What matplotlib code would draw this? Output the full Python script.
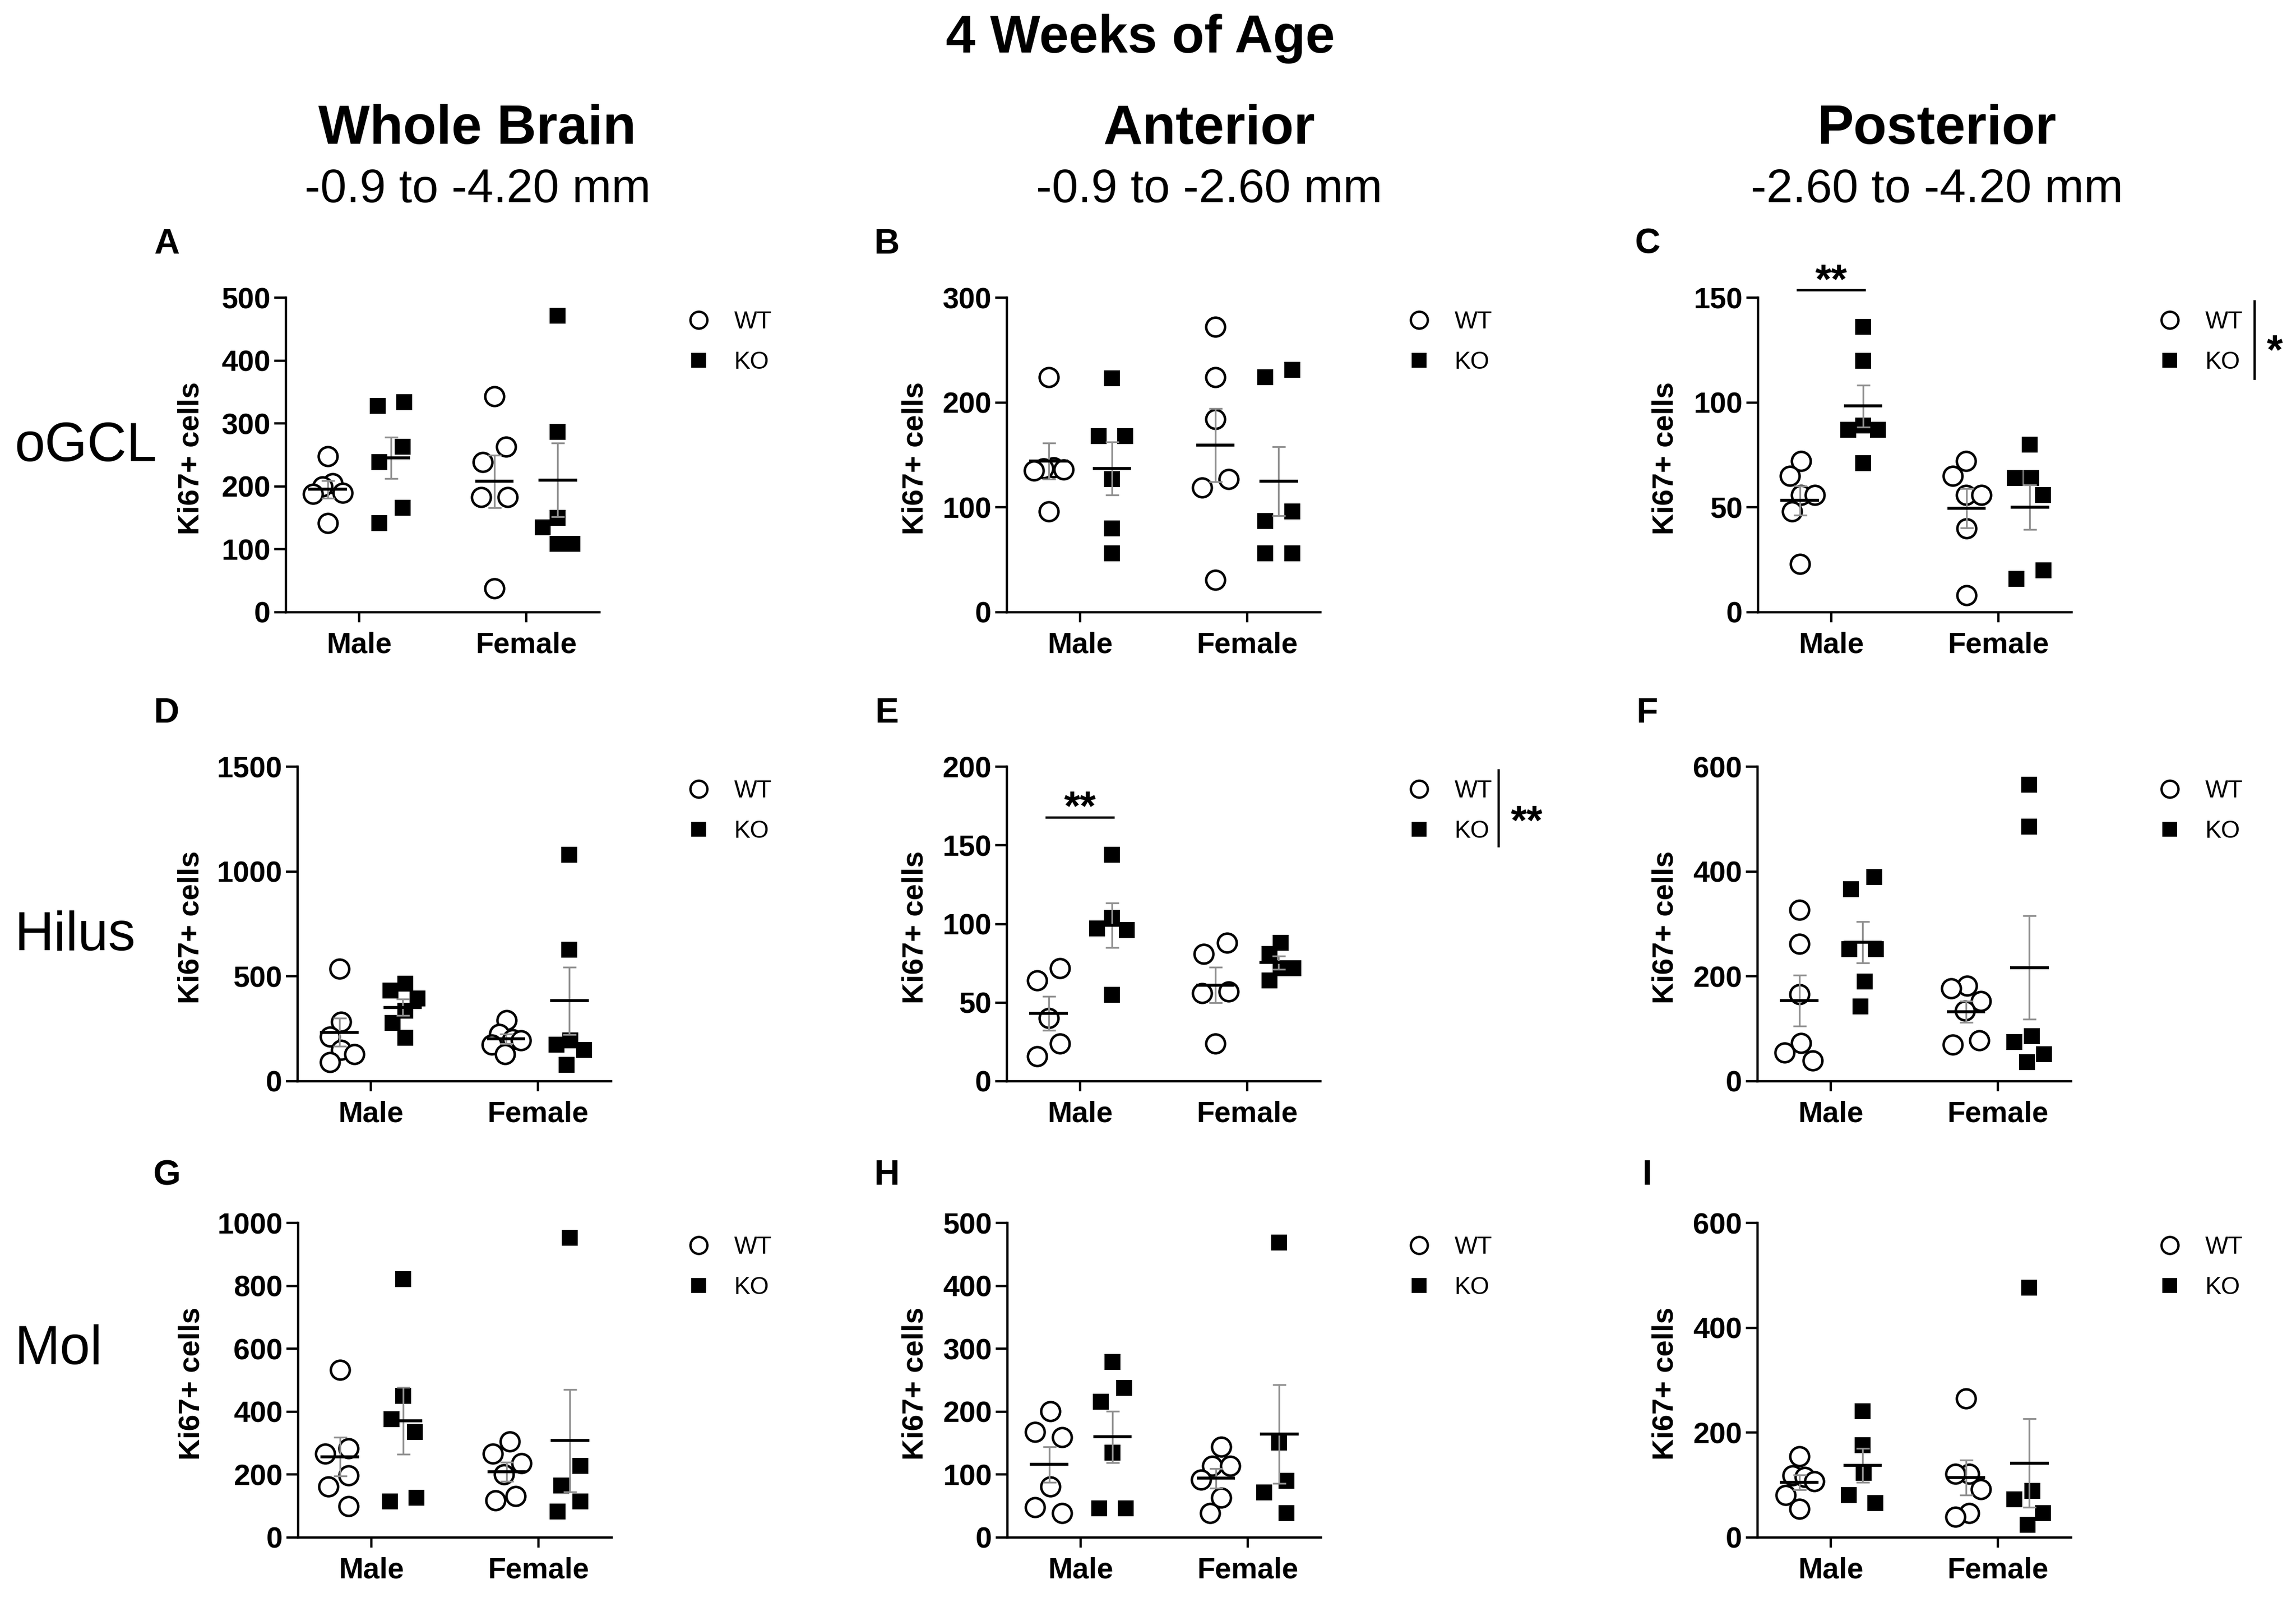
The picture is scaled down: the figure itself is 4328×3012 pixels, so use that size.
import numpy as np
import matplotlib
matplotlib.use("Agg")
import matplotlib.pyplot as plt
from matplotlib.lines import Line2D

plt.rcParams['font.family'] = ['Liberation Sans', 'DejaVu Sans']

# values (Ki67+ cells per animal)
sexes = ['Male', 'Female']
groups = ['WT', 'KO']

a_wt_m = [248, 205, 200, 190, 188, 142]
a_ko_m = [334, 328, 263, 239, 166, 142]
a_wt_f = [343, 263, 239, 183, 183, 38]
a_ko_f = [471, 287, 150, 135, 109, 109]

b_wt_m = [224, 138, 137, 136, 135, 96]
b_ko_m = [223, 168, 168, 127, 80, 56]
b_wt_f = [272, 224, 184, 127, 119, 31]
b_ko_f = [231, 224, 96, 87, 56, 56]

c_wt_m = [72, 65, 56, 56, 48, 23]
c_ko_m = [136, 120, 89, 87, 87, 71]
c_wt_f = [72, 65, 56, 56, 40, 8]
c_ko_f = [80, 64, 64, 56, 20, 16]

d_wt_m = [537, 284, 213, 149, 129, 90]
d_ko_m = [466, 433, 395, 336, 278, 207]
d_wt_f = [291, 226, 200, 194, 175, 129]
d_ko_f = [1080, 627, 194, 175, 149, 78]

e_wt_m = [72, 64, 40, 24, 16]
e_ko_m = [144, 104, 97, 96, 55]
e_wt_f = [88, 81, 57, 56, 24]
e_ko_f = [88, 81, 72, 72, 64]

f_wt_m = [327, 262, 166, 73, 55, 39]
f_ko_m = [390, 366, 252, 252, 190, 143]
f_wt_f = [182, 177, 153, 135, 78, 70]
f_ko_f = [566, 486, 86, 75, 52, 36]

g_wt_m = [533, 284, 266, 197, 162, 100]
g_ko_m = [821, 450, 376, 336, 127, 114]
g_wt_f = [306, 266, 236, 201, 131, 118]
g_ko_f = [952, 227, 166, 114, 83]

h_wt_m = [201, 168, 159, 81, 48, 39]
h_ko_m = [279, 238, 216, 135, 46, 46]
h_wt_f = [144, 114, 114, 92, 63, 39]
h_ko_f = [469, 151, 90, 72, 39]

i_wt_m = [155, 118, 115, 107, 81, 55]
i_ko_m = [241, 176, 123, 81, 66]
i_wt_f = [265, 121, 121, 92, 47, 39]
i_ko_f = [477, 89, 73, 47, 24]

y_max = [500, 300, 150, 1500, 200, 600, 1000, 500, 600]
y_step = [100, 100, 50, 500, 50, 200, 200, 100, 200]
panel_letters = ['A', 'B', 'C', 'D', 'E', 'F', 'G', 'H', 'I']
col_titles = ['Whole Brain', 'Anterior', 'Posterior']
col_ranges = ['-0.9 to -4.20 mm', '-0.9 to -2.60 mm', '-2.60 to -4.20 mm']
row_titles = ['oGCL', 'Hilus', 'Mol']

panel_data = [
    (a_wt_m, a_ko_m, a_wt_f, a_ko_f),
    (b_wt_m, b_ko_m, b_wt_f, b_ko_f),
    (c_wt_m, c_ko_m, c_wt_f, c_ko_f),
    (d_wt_m, d_ko_m, d_wt_f, d_ko_f),
    (e_wt_m, e_ko_m, e_wt_f, e_ko_f),
    (f_wt_m, f_ko_m, f_wt_f, f_ko_f),
    (g_wt_m, g_ko_m, g_wt_f, g_ko_f),
    (h_wt_m, h_ko_m, h_wt_f, h_ko_f),
    (i_wt_m, i_ko_m, i_wt_f, i_ko_f),
]

# ---- layout (pixels in the 4328 x 3012 output) ----
W, H = 4328, 3012
DPI = 200
fig = plt.figure(figsize=(W / DPI, H / DPI), dpi=DPI)

spine_x = [539, 1898, 3314, 561, 1898, 3313, 562, 1899, 3313]
row_top = [561, 1445, 2305]
ax_w, ax_h = 591, 593
ylab_x = [358, 1722, 3136]
legend_x = [1317, 2675, 4090]
XLIM = (-0.44, 1.44)
OFF = 0.19          # WT / KO offset from the sex tick
DIAM = 36           # marker diameter in px
MAX_HALF = 28       # widest sideways spread of a cluster, px


def fx(x):
    return x / W


def fy(y):
    return 1 - y / H


def swarm(vals, px_x, px_y):
    # beeswarm-ish: push close points sideways, then centre and squeeze each cluster
    vals = np.asarray(vals, float)
    yp = vals * px_y
    offs = np.zeros(len(vals))
    dist = 1.3 * DIAM
    step = DIAM * 0.2
    placed = []
    for i in np.argsort(-vals):
        cands = [0.0]
        for k in range(1, 60):
            cands += [-k * step, k * step]
        for c in cands:
            if all((c - offs[j]) ** 2 + (yp[i] - yp[j]) ** 2 >= dist ** 2 for j in placed):
                break
        offs[i] = c
        placed.append(i)
    order = np.argsort(yp)
    clusters, cur = [], [order[0]]
    for a, b in zip(order[:-1], order[1:]):
        if yp[b] - yp[a] < dist:
            cur.append(b)
        else:
            clusters.append(cur)
            cur = [b]
    clusters.append(cur)
    for cl in clusters:
        cl = np.array(cl)
        o = offs[cl] - offs[cl].mean()
        m = np.abs(o).max()
        if m > MAX_HALF:
            o = o * MAX_HALF / m
        offs[cl] = o
    return offs / px_x


axes = []
for p in range(9):
    r, c = divmod(p, 3)
    left = spine_x[p]
    top = row_top[r]
    ax = fig.add_axes([fx(left), fy(top + ax_h), ax_w / W, ax_h / H])
    axes.append(ax)

    ax.set_xlim(*XLIM)
    ax.set_ylim(0, y_max[p])
    px_x = ax_w / (XLIM[1] - XLIM[0])
    px_y = ax_h / y_max[p]

    wt_m, ko_m, wt_f, ko_f = panel_data[p]
    sets = [(0, wt_m, 'WT'), (0, ko_m, 'KO'), (1, wt_f, 'WT'), (1, ko_f, 'KO')]
    for pos, vals, grp in sets:
        cx = pos - OFF if grp == 'WT' else pos + OFF
        xs = cx + swarm(vals, px_x, px_y)
        if grp == 'WT':
            ax.plot(xs, vals, 'o', ms=12.8, mfc='white', mec='black', mew=1.7,
                    ls='none', zorder=3, clip_on=False)
        else:
            ax.plot(xs, vals, 's', ms=11, mfc='black', mec='black', mew=0,
                    ls='none', zorder=3, clip_on=False)
        m = np.mean(vals)
        sem = np.std(vals, ddof=1) / np.sqrt(len(vals))
        ax.errorbar(cx, m, yerr=sem, fmt='none', ecolor='#909090', elinewidth=1.2,
                    capsize=4.5, capthick=1.2, zorder=4)
        ax.hlines(m, cx - 0.115, cx + 0.115, color='black', lw=2.0, zorder=5)

    for side in ['top', 'right']:
        ax.spines[side].set_visible(False)
    for side in ['left', 'bottom']:
        ax.spines[side].set_linewidth(1.6)
    ax.set_yticks(np.arange(0, y_max[p] + 1, y_step[p]))
    ax.set_xticks([0, 1])
    ax.set_xticklabels(sexes)
    ax.tick_params(axis='y', length=8, width=1.6, pad=2.5, labelsize=20)
    ax.tick_params(axis='x', length=7, width=1.6, pad=6, labelsize=20)
    for lab in ax.get_xticklabels() + ax.get_yticklabels():
        lab.set_fontweight('bold')

    ax.set_ylabel('Ki67+ cells', fontsize=20, fontweight='bold')
    ax.yaxis.set_label_coords((ylab_x[c] + 29 - left) / ax_w, 0.49)

    # legend to the right of each panel
    handles = [Line2D([], [], marker='o', ms=11.5, mfc='white', mec='black', mew=1.6, ls='none'),
               Line2D([], [], marker='s', ms=10, mfc='black', mec='black', mew=0, ls='none')]
    fs_px = 16.5 / 72 * DPI
    ax.legend(handles, groups, loc='center left', frameon=False, fontsize=16.5,
              bbox_to_anchor=(fx(legend_x[c] - 0.5 * fs_px), fy(top + 84)),
              bbox_transform=fig.transFigure, borderpad=0, borderaxespad=0,
              handlelength=1.0, handletextpad=0.95, labelspacing=0.68)

    fig.text(fx([314, 1672, 3105][c]), fy([461, 1345, 2216][r]), panel_letters[p],
             fontsize=24, fontweight='bold', ha='center', va='center')

# significance marks
ax_c, ax_e = axes[2], axes[4]
ax_c.plot([-0.2, 0.2], [153.5, 153.5], color='black', lw=1.6, clip_on=False)
ax_c.text(0, 152, '**', fontsize=28, fontweight='bold', ha='center', va='baseline')
ax_e.plot([-0.2, 0.2], [167.6, 167.6], color='black', lw=1.6, clip_on=False)
ax_e.text(0, 166, '**', fontsize=28, fontweight='bold', ha='center', va='baseline')

fig.add_artist(Line2D([fx(4250), fx(4250)], [fy(568), fy(714)], color='black', lw=1.6))
fig.text(fx(4288), fy(686), '*', fontsize=28, fontweight='bold', ha='center', va='baseline')
fig.add_artist(Line2D([fx(2825), fx(2825)], [fy(1452), fy(1595)], color='black', lw=1.6))
fig.text(fx(2878), fy(1573), '**', fontsize=28, fontweight='bold', ha='center', va='baseline')

# headers
fig.text(fx(2150), fy(73), '4 Weeks of Age', fontsize=36, fontweight='bold', ha='center', va='center')
for c in range(3):
    xc = [900, 2279, 3651][c]
    fig.text(fx(xc), fy(244), col_titles[c], fontsize=37, fontweight='bold', ha='center', va='center')
    fig.text(fx(xc), fy(358), col_ranges[c], fontsize=32, ha='center', va='center')
for r in range(3):
    fig.text(fx(28), fy([843, 1764, 2545][r]), row_titles[r], fontsize=37, ha='left', va='center')

fig.savefig('out.png', dpi=DPI)
